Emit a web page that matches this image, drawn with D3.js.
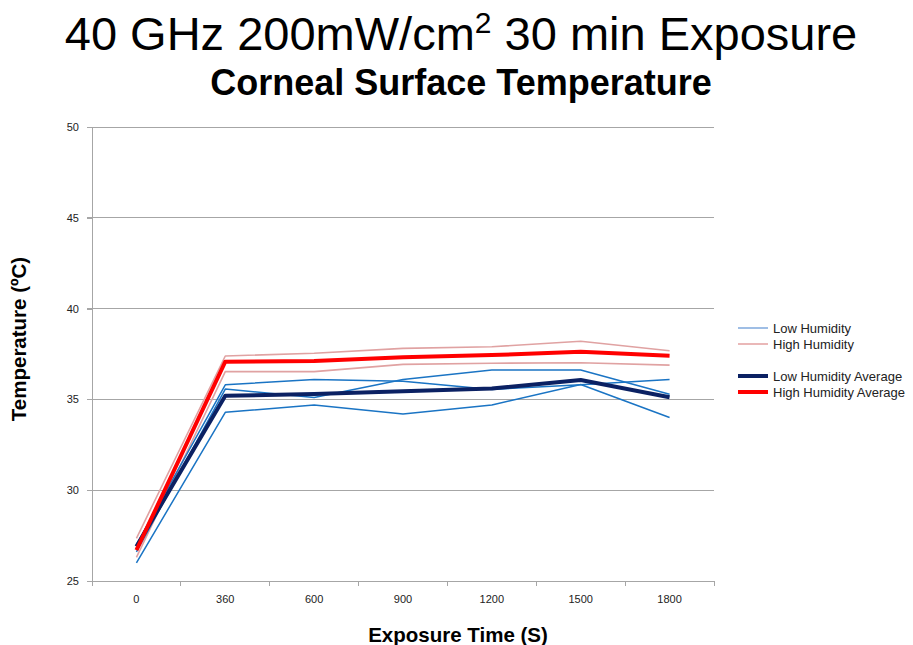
<!DOCTYPE html>
<html>
<head>
<meta charset="utf-8">
<script src="https://cdn.jsdelivr.net/npm/d3@7"></script>
<style>
  body { margin: 0; background: #fff; }
  svg { display: block; }
  text { font-family: "Liberation Sans", Arial, sans-serif; }
</style>
</head>
<body>
<svg id="chart" width="913" height="645"></svg>
<script>
// ---- data ----
const categories = ["0", "360", "600", "900", "1200", "1500", "1800"];
const yTicks = [25, 30, 35, 40, 45, 50];

const lowHumidity1 = [27.0, 35.8, 36.1, 36.0, 35.55, 35.8, 36.1];
const lowHumidity2 = [26.6, 35.57, 35.1, 36.1, 36.62, 36.62, 35.28];
const lowHumidity3 = [26.0, 34.29, 34.69, 34.2, 34.69, 35.82, 34.0];

const highHumidity1 = [27.35, 37.39, 37.54, 37.81, 37.9, 38.2, 37.68];
const highHumidity2 = [26.3, 36.53, 36.53, 36.93, 36.99, 37.02, 36.89];

const lowHumidityAverage = [26.9, 35.2, 35.3, 35.45, 35.6, 36.07, 35.12];
const highHumidityAverage = [26.7, 37.08, 37.11, 37.32, 37.44, 37.63, 37.41];

const legendLabels = ["Low Humidity", "High Humidity", "Low Humidity Average", "High Humidity Average"];

// ---- layout ----
const svg = d3.select("#chart");
const margin = { left: 92, right: 199, top: 127, bottom: 64 };
const W = 913, H = 645;
const x = d3.scaleBand().domain(categories).range([margin.left, W - margin.right]).padding(0);
const y = d3.scaleLinear().domain([25, 50]).range([H - margin.bottom, margin.top]);

const gridColor = "#a6a6a6";

// gridlines
svg.append("g")
  .selectAll("line")
  .data(yTicks.filter(d => d > 25))
  .join("line")
  .attr("x1", margin.left - 5).attr("x2", W - margin.right)
  .attr("y1", d => y(d)).attr("y2", d => y(d))
  .attr("stroke", gridColor).attr("stroke-width", 1).attr("shape-rendering", "crispEdges");

// y axis
const yAxis = svg.append("g")
  .attr("transform", `translate(${margin.left},0)`)
  .call(d3.axisLeft(y).tickValues(yTicks).tickSize(5).tickPadding(8).tickFormat(d3.format("d")));
yAxis.select(".domain").attr("stroke", gridColor).attr("shape-rendering", "crispEdges");
yAxis.selectAll(".tick line").attr("stroke", gridColor).attr("shape-rendering", "crispEdges");
yAxis.selectAll("text").attr("font-family", null).attr("font-size", 11).attr("fill", "#222");

// x axis with boundary ticks
const xAxisG = svg.append("g").attr("transform", `translate(0,${y(25)})`);
xAxisG.append("line")
  .attr("x1", margin.left).attr("x2", W - margin.right)
  .attr("y1", 0).attr("y2", 0)
  .attr("stroke", gridColor).attr("shape-rendering", "crispEdges");
const boundaries = categories.map(c => x(c)).concat([x(categories[categories.length - 1]) + x.bandwidth()]);
xAxisG.selectAll("line.tk")
  .data(boundaries)
  .join("line").attr("class", "tk")
  .attr("x1", d => d).attr("x2", d => d)
  .attr("y1", 0).attr("y2", 5)
  .attr("stroke", gridColor).attr("shape-rendering", "crispEdges");
xAxisG.selectAll("text")
  .data(categories)
  .join("text")
  .attr("x", d => x(d) + x.bandwidth() / 2)
  .attr("y", 22)
  .attr("text-anchor", "middle")
  .attr("font-size", 11)
  .attr("fill", "#222")
  .text(d => d);

// lines
const line = d3.line()
  .x((d, i) => x(categories[i]) + x.bandwidth() / 2)
  .y(d => y(d));

const thinBlue = "#1a74c4";
const thinRed = "#e0a2a2";
const navy = "#0b2163";
const red = "#ff0000";

const series = [
  { data: highHumidity1, color: thinRed, width: 1.6 },
  { data: highHumidity2, color: thinRed, width: 1.6 },
  { data: lowHumidity1, color: thinBlue, width: 1.5 },
  { data: lowHumidity2, color: thinBlue, width: 1.5 },
  { data: lowHumidity3, color: thinBlue, width: 1.5 },
  { data: lowHumidityAverage, color: navy, width: 4 },
  { data: highHumidityAverage, color: red, width: 4 }
];

svg.append("g").selectAll("path")
  .data(series)
  .join("path")
  .attr("d", d => line(d.data))
  .attr("fill", "none")
  .attr("stroke", d => d.color)
  .attr("stroke-width", d => d.width)
  .attr("stroke-linejoin", "round");

// legend
const legendItems = [
  { label: legendLabels[0], color: "#7fa8dc", width: 1.5, y: 328 },
  { label: legendLabels[1], color: "#e3a0a0", width: 1.5, y: 344 },
  { label: legendLabels[2], color: navy, width: 4, y: 376 },
  { label: legendLabels[3], color: red, width: 4, y: 392 }
];
const lg = svg.append("g");
lg.selectAll("line")
  .data(legendItems)
  .join("line")
  .attr("x1", 738).attr("x2", 768)
  .attr("y1", d => d.y).attr("y2", d => d.y)
  .attr("stroke", d => d.color).attr("stroke-width", d => d.width);
lg.selectAll("text")
  .data(legendItems)
  .join("text")
  .attr("x", 773).attr("y", d => d.y + 4.5)
  .attr("font-size", 13)
  .attr("fill", "#222")
  .text(d => d.label);

// titles
const title = svg.append("text")
  .attr("x", 461).attr("y", 50)
  .attr("text-anchor", "middle")
  .attr("font-size", 47)
  .attr("fill", "#000");
title.append("tspan").text("40 GHz 200mW/cm");
title.append("tspan").attr("font-size", 30).attr("dy", -17).text("2");
title.append("tspan").attr("dy", 17).text(" 30 min Exposure");

svg.append("text")
  .attr("x", 461).attr("y", 95)
  .attr("text-anchor", "middle")
  .attr("font-size", 36)
  .attr("font-weight", "bold")
  .attr("fill", "#000")
  .text("Corneal Surface Temperature");

// axis titles
svg.append("text")
  .attr("transform", "translate(26,339) rotate(-90)")
  .attr("text-anchor", "middle")
  .attr("font-size", 20.5)
  .attr("font-weight", "bold")
  .attr("fill", "#000")
  .text("Temperature (ºC)");

svg.append("text")
  .attr("x", 458).attr("y", 642)
  .attr("text-anchor", "middle")
  .attr("font-size", 20.5)
  .attr("font-weight", "bold")
  .attr("fill", "#000")
  .text("Exposure Time (S)");
</script>
</body>
</html>
